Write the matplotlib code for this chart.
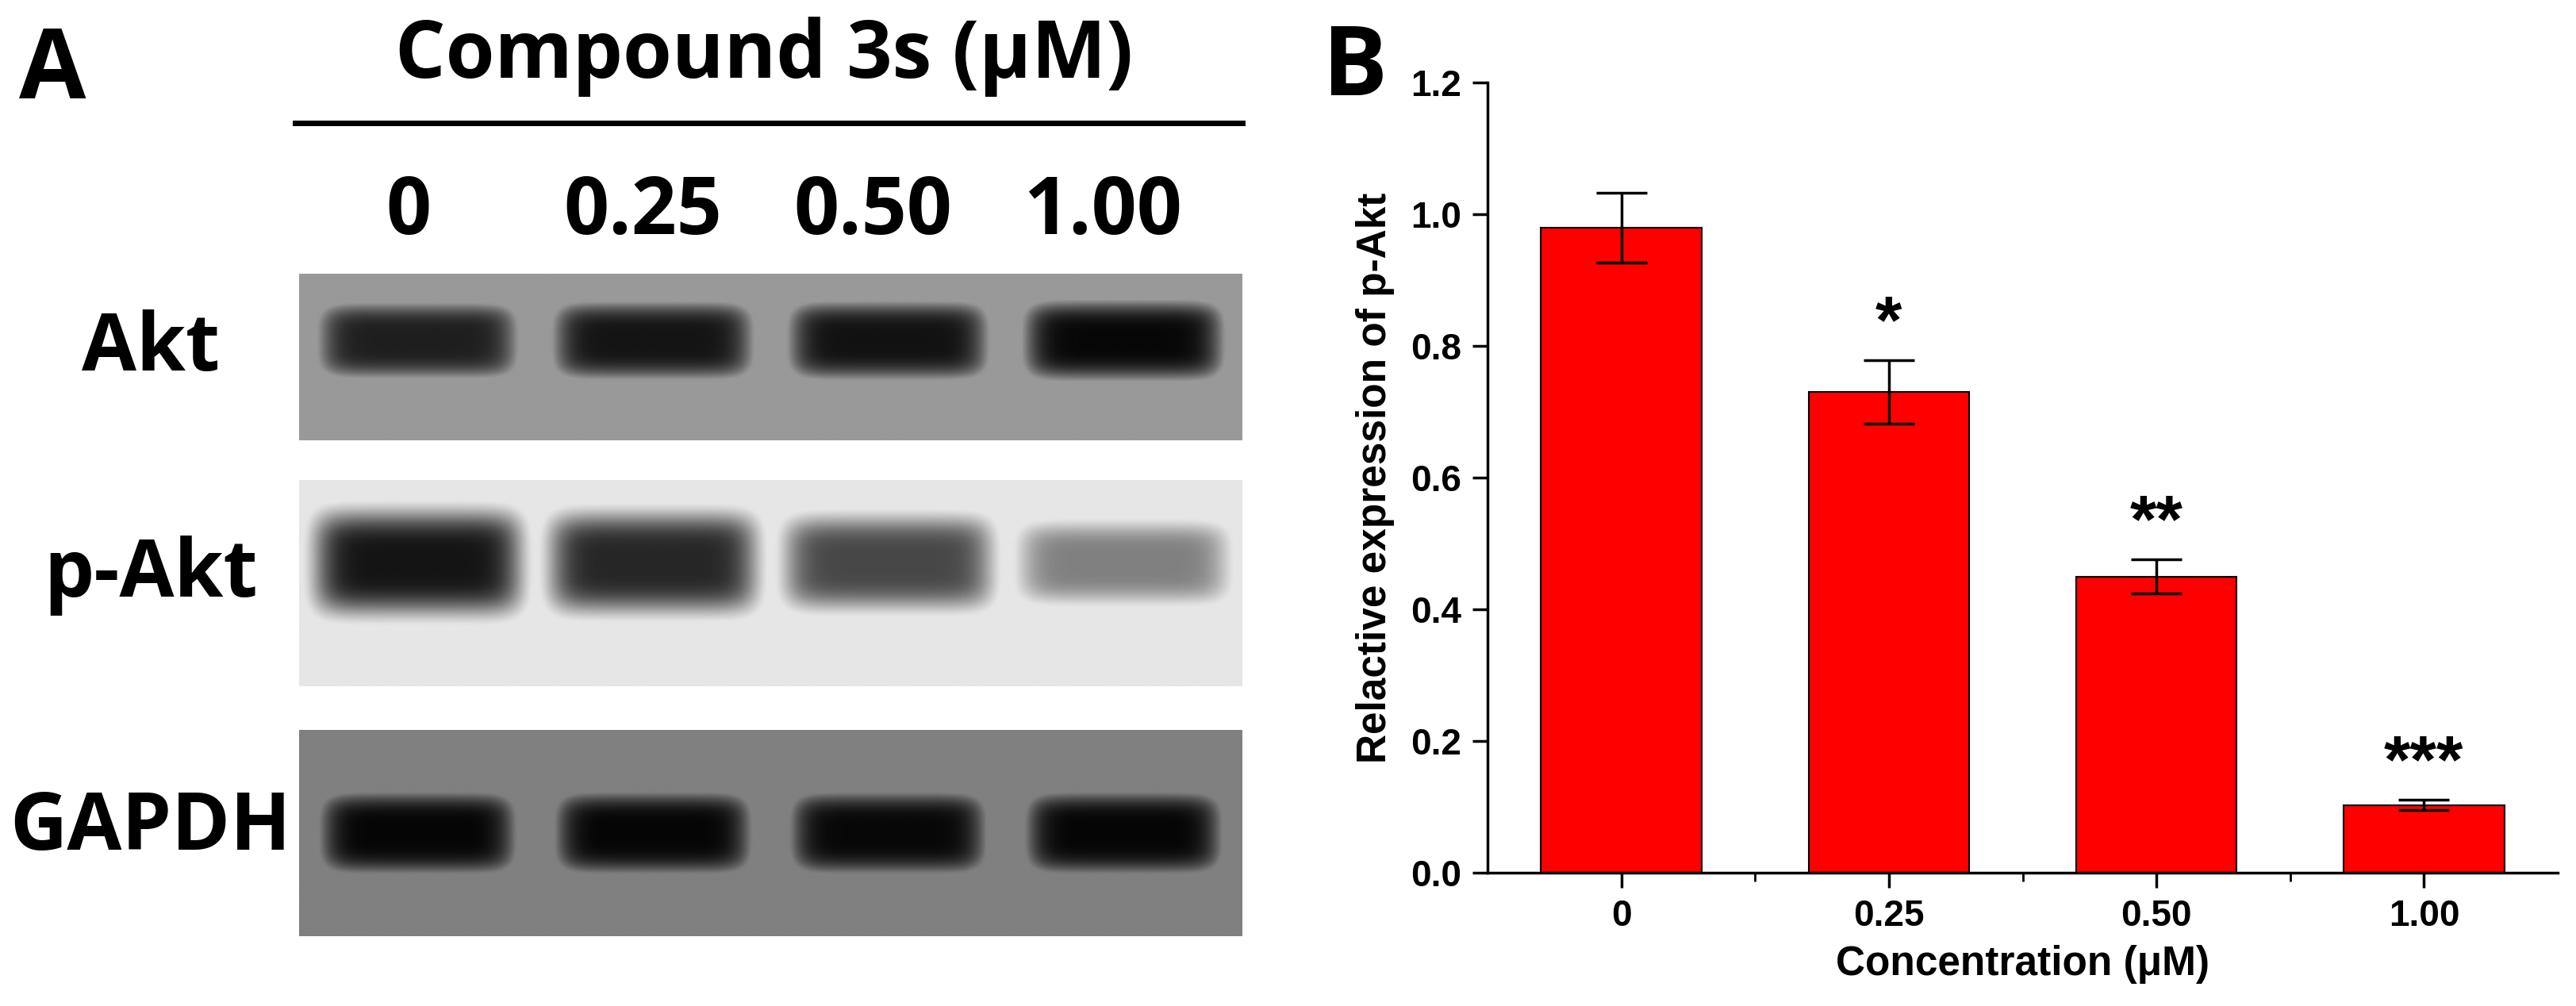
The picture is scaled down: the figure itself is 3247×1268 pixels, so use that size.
import numpy as np
import matplotlib
matplotlib.use("Agg")
import matplotlib.pyplot as plt
from matplotlib.ticker import FixedLocator

categories = ["0", "0.25", "0.50", "1.00"]
values = [0.98, 0.73, 0.45, 0.103]
errors = [0.053, 0.048, 0.026, 0.008]
stars = ["", "*", "**", "***"]
rows = ["Akt", "p-Akt", "GAPDH"]
band_strength = {"Akt": [0.88, 0.92, 0.93, 0.97], "p-Akt": [0.92, 0.85, 0.72, 0.5], "GAPDH": [0.98, 0.98, 0.97, 0.98]}
background = {"Akt": 0.4, "p-Akt": 0.1, "GAPDH": 0.5}

W, H = 3247, 1268
fig = plt.figure(figsize=(W/100, H/100), dpi=100)
OS = dict(family="Open Sans", weight="bold")
LS = dict(family="Liberation Sans", weight="bold")

# Panel A
fig.text(66/W, 1-92/H, "A", fontsize=88, ha="center", va="center", **OS)
fig.text(963/W, 1-72/H, "Compound 3s (μM)", fontsize=72, ha="center", va="center", **OS)
fig.add_artist(plt.Line2D([372/W, 1566/W], [1-155/H]*2, color="black", lw=5))
lane_x = [515, 810, 1100, 1390]
for lx, c in zip(lane_x, categories):
    fig.text(lx/W, 1-269/H, c, fontsize=72, ha="center", va="center", **OS)

blots = {"Akt": (345, 555), "p-Akt": (605, 865), "GAPDH": (920, 1180)}
label_y = {"Akt": 440, "p-Akt": 725, "GAPDH": 1045}
rng_x = np.linspace(0, 4, 400)
for r in rows:
    y0, y1 = blots[r]
    ax = fig.add_axes([377/W, 1-y1/H, (1566-377)/W, (y1-y0)/H])
    yy = np.linspace(0, 1, 100)[:, None]
    img = np.full((100, 400), background[r])
    for i, s in enumerate(band_strength[r]):
        lanex = np.exp(-((rng_x - (i + 0.5)) / 0.44) ** 8)
        thick = 0.12 + 0.14 * s if r != "GAPDH" else 0.22
        cy = 0.4 if r != "GAPDH" else 0.5
        band = np.exp(-((yy - cy) / thick) ** 4)
        img = np.maximum(img, s * band * lanex[None, :])
    ax.imshow(1 - img, cmap="gray", vmin=0, vmax=1, aspect="auto", interpolation="bilinear")
    ax.axis("off")
    fig.text(190/W, 1-label_y[r]/H, r, fontsize=72, ha="center", va="center", **OS)

# Panel B
fig.text(1708/W, 1-88/H, "B", fontsize=88, ha="center", va="center", **OS)
ax = fig.add_axes([1875/W, 1-1100/H, (3224-1875)/W, (1100-104)/H])
x = np.arange(len(categories))
ax.bar(x, values, width=0.6, color="#ff0000", edgecolor="black", lw=1.5)
ax.errorbar(x, values, yerr=errors, fmt="none", ecolor="black", elinewidth=2.5, capsize=23, capthick=2.5)
for xi, v, e, s in zip(x, values, errors, stars):
    if s:
        ax.text(xi, v + e + 0.005, s, fontsize=62, ha="center", va="bottom", **LS)
ax.set_xlim(-0.5, 3.5)
ax.set_ylim(0, 1.2)
ax.set_xticks(x)
ax.set_xticklabels(categories)
ax.xaxis.set_minor_locator(FixedLocator([0.5, 1.5, 2.5]))
ax.set_yticks(np.arange(0, 1.21, 0.2))
ax.set_yticklabels([f"{t:.1f}" for t in np.arange(0, 1.21, 0.2)])
for sp in ["top", "right"]:
    ax.spines[sp].set_visible(False)
for sp in ["left", "bottom"]:
    ax.spines[sp].set_linewidth(2.5)
ax.tick_params(axis="both", which="major", length=14, width=2.5, direction="out", labelsize=33, pad=10)
ax.tick_params(axis="x", which="minor", length=8, width=2)
for lab in ax.get_xticklabels() + ax.get_yticklabels():
    lab.set_fontfamily("Liberation Sans"); lab.set_fontweight("bold")
ax.set_xlabel("Concentration (μM)", fontsize=37, labelpad=10, **LS)
ax.set_ylabel("Relactive expression of p-Akt", fontsize=37, labelpad=14, **LS)
fig.savefig("out.png", dpi=100, facecolor="white")
